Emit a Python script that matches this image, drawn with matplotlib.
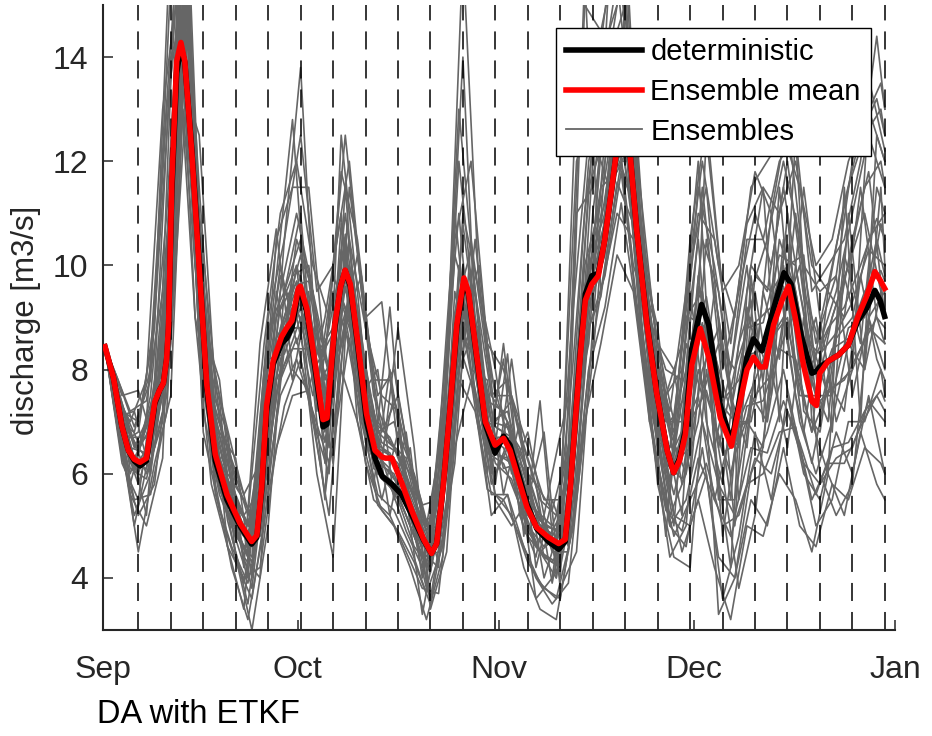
import matplotlib
matplotlib.use("Agg")
import matplotlib.pyplot as plt
from matplotlib.lines import Line2D

plt.rcParams['font.family'] = ['Liberation Sans', 'DejaVu Sans']

# ---------------- data (days since 1 Sep) ----------------
month_ticks = [0, 30, 61, 91, 122]
month_labels = ["Sep", "Oct", "Nov", "Dec", "Jan"]
y_ticks = [4, 6, 8, 10, 12, 14]

# assimilation times (dashed lines)
da_days = [5.44, 10.44, 15.44, 20.44, 25.44, 30.44, 35.44, 40.44, 45.44, 50.44,
           55.44, 60.44, 65.44, 70.44, 75.44, 80.44, 85.44, 90.44, 95.44, 100.44,
           105.44, 110.44, 115.44, 120.44]

# ensemble mean (red)
mean_days = [0.3, 1.6, 2.9, 3.9, 4.8, 5.7, 6.7, 7.4, 8.0, 8.7, 9.3, 9.8, 10.1, 10.6,
             11.35, 12.0, 12.6, 13.7, 14.9, 16.0, 17.3, 19.1, 21.1, 22.9, 23.7, 24.45,
             25.2, 26.2, 27.5, 28.3, 29.1, 30.1, 30.4, 31.4, 32.7, 33.9, 34.5, 35.7,
             36.6, 37.3, 38.1, 39.3, 40.6, 41.9, 43.0, 43.5, 44.5, 46.0, 47.6, 49.4,
             50.6, 51.4, 52.4, 53.5, 54.5, 55.6, 56.3, 57.6, 58.9, 60.4, 61.7, 62.7,
             64.0, 65.3, 66.8, 68.6, 70.2, 71.2, 72.0, 72.7, 73.5, 74.3, 75.3, 76.3,
             77.3, 78.4, 79.2, 80.2, 81.2, 82.2, 83.8, 85.3, 86.9, 87.9, 88.8, 89.7,
             90.7, 92.0, 93.3, 95.1, 96.8, 97.9, 99.2, 100.2, 101.2, 102.0, 103.3,
             104.6, 105.6, 106.6, 107.9, 109.2, 109.9, 110.4, 111.7, 113.3, 114.8,
             116.3, 117.6, 118.9, 119.7, 120.4]
mean_vals = [8.44, 7.85, 6.92, 6.45, 6.28, 6.22, 6.3, 6.9, 7.39, 7.6, 7.74, 8.2, 8.86, 11.59,
             13.92, 14.28, 13.92, 12.13, 9.8, 7.7, 6.37, 5.6, 5.05, 4.7, 4.82, 5.75,
             7.31, 8.16, 8.63, 8.8, 8.94, 9.56, 9.6, 9.17, 8.09, 7.04, 7.07, 8.86,
             9.6, 9.91, 9.64, 8.47, 7.15, 6.45, 6.32, 6.3, 6.3, 5.83, 5.28, 4.74,
             4.47, 4.66, 5.75, 7.31, 8.86, 9.76, 9.49, 8.24, 7.0, 6.55, 6.68, 6.45,
             5.9, 5.36, 4.97, 4.78, 4.66, 4.74, 5.75, 6.92, 8.24, 9.33, 9.64, 9.8,
             10.5, 11.51, 12.29, 13.0, 12.13, 10.7, 8.86, 7.54, 6.45, 6.02, 6.25, 6.75,
             8.09, 8.79, 8.24, 7.07, 6.53, 7.23, 8.0, 8.24, 8.05, 8.05, 8.86,
             9.33, 9.6, 9.02, 8.09, 7.39, 7.31, 7.93, 8.16, 8.28, 8.47,
             9.02, 9.4, 9.88, 9.72, 9.56]

# deterministic run (black)
det_days = [0.3, 1.6, 2.9, 3.9, 4.8, 5.7, 6.7, 7.4, 8.0, 8.7, 9.3, 9.8, 10.1, 10.6,
            11.35, 12.0, 12.6, 13.7, 14.9, 16.0, 17.3, 19.1, 21.1, 22.9, 23.7, 24.45,
            25.2, 26.2, 27.5, 28.3, 29.1, 30.1, 30.4, 31.4, 32.7, 33.9, 34.5, 35.7,
            36.6, 37.3, 38.1, 39.3, 40.6, 41.9, 43.0, 44.5, 46.0, 47.6, 49.4,
            50.6, 51.4, 52.4, 53.5, 54.5, 55.6, 56.3, 57.6, 58.9, 60.4, 61.7, 62.7,
            64.0, 65.3, 66.8, 68.6, 70.2, 71.2, 72.0, 72.7, 73.5, 74.3, 75.3, 76.3,
            77.3, 78.4, 79.2, 80.2, 81.2, 82.2, 83.8, 85.3, 86.9, 87.9, 88.8, 89.7,
            90.7, 92.2, 93.3, 95.1, 96.8, 97.9, 99.2, 100.2, 101.5, 103.3, 104.9,
            106.0, 107.6, 109.2, 109.9, 110.4, 111.7, 113.3, 114.8, 116.3, 117.6,
            118.9, 119.7, 120.4]
det_vals = [8.44, 7.85, 6.92, 6.45, 6.25, 6.15, 6.25, 6.85, 7.35, 7.6, 7.74, 8.2, 8.8, 11.4,
            13.7, 14.2, 13.9, 12.2, 9.9, 7.6, 6.25, 5.5, 5.0, 4.65, 4.78, 5.7,
            7.2, 8.1, 8.5, 8.6, 8.8, 9.5, 9.55, 9.1, 8.0, 6.9, 6.95, 8.8,
            9.6, 9.9, 9.6, 8.4, 7.0, 6.3, 5.95, 5.8, 5.6, 5.2, 4.72,
            4.47, 4.66, 5.75, 7.3, 8.8, 9.7, 9.45, 8.2, 6.95, 6.4, 6.72, 6.55,
            6.0, 5.42, 4.95, 4.7, 4.55, 4.7, 5.75, 6.95, 8.3, 9.45, 9.8, 9.85,
            10.5, 11.5, 12.3, 13.0, 12.13, 10.7, 8.9, 7.55, 6.45, 6.02, 6.3, 6.84,
            8.4, 9.25, 8.86, 7.31, 6.61, 7.31, 8.24, 8.59, 8.36, 9.17, 9.86,
            9.64, 8.63, 7.93, 7.97, 8.05, 8.16, 8.28, 8.47, 8.94, 9.17,
            9.52, 9.33, 9.02]

# ensemble members, group A
ens_days_a = [0.3, 2.94, 5.44, 7.94, 10.44, 12.94, 15.44, 17.94, 20.44, 22.94,
              25.44, 27.94, 30.44, 32.94, 35.44, 37.94, 40.44, 42.94, 45.44, 47.94,
              50.44, 52.94, 55.44, 57.94, 60.44, 62.94, 65.44, 67.94, 70.44, 72.94,
              75.44, 77.94, 80.44, 82.94, 85.44, 87.94, 90.44, 92.94, 95.44, 97.94,
              100.44, 102.94, 105.44, 107.94, 110.44, 112.94, 115.44, 117.94, 120.44]
ens_a = [
    [8.44, 7.2, 7.0, 8.8, 15.5, 17.0, 9.0, 7.5, 6.2, 5.0, 9.0, 10.5, 12.5, 9.5, 10.0, 12.0, 8.8, 7.5, 7.2, 5.8,
     4.8, 8.0, 16.0, 9.5, 7.5, 7.5, 6.5, 5.5, 5.5, 12.0, 13.0, 15.5, 16.5, 10.5, 8.5, 7.0, 10.0, 11.5, 8.0, 9.5,
     11.0, 10.0, 12.0, 9.5, 8.5, 9.5, 11.0, 12.5, 11.5],
    [8.44, 6.3, 5.2, 5.8, 8.5, 13.5, 6.8, 5.3, 4.3, 3.6, 5.6, 7.3, 8.2, 6.8, 6.5, 8.6, 6.2, 5.3, 4.9, 4.3,
     3.5, 5.2, 8.8, 7.0, 5.6, 5.2, 4.3, 3.8, 3.6, 5.5, 8.2, 12.0, 14.0, 8.3, 6.2, 4.8, 5.5, 6.2, 5.0, 5.2,
     6.3, 6.0, 7.2, 6.2, 5.8, 6.3, 6.5, 7.4, 7.0],
    [8.44, 7.3, 6.6, 6.8, 8.8, 15.5, 9.2, 7.5, 5.8, 5.2, 6.0, 9.5, 10.5, 9.0, 7.5, 10.5, 8.8, 6.8, 7.5, 5.8,
     4.6, 5.2, 9.0, 10.0, 7.0, 7.4, 6.0, 4.4, 4.2, 5.8, 10.5, 12.5, 14.5, 10.2, 8.8, 6.2, 6.5, 10.5, 8.5, 6.5,
     9.8, 9.5, 10.0, 10.2, 7.2, 8.6, 9.0, 10.5, 11.0],
    [8.44, 6.6, 6.8, 9.0, 16.5, 15.0, 7.2, 5.6, 4.8, 4.4, 8.8, 9.5, 11.0, 7.2, 9.5, 9.5, 6.6, 6.0, 5.5, 4.6,
     4.2, 8.0, 14.0, 7.2, 6.0, 6.8, 5.0, 4.6, 5.2, 13.5, 12.0, 13.5, 13.0, 8.8, 6.6, 6.5, 9.5, 7.0, 5.8, 8.5,
     9.5, 7.5, 11.0, 7.2, 6.8, 8.8, 10.5, 11.8, 9.0],
    [8.44, 7.0, 6.5, 7.6, 11.5, 14.8, 8.6, 6.3, 5.5, 4.9, 7.8, 9.0, 10.2, 8.3, 8.8, 10.4, 7.8, 6.6, 6.4, 5.5,
     4.7, 6.8, 10.8, 8.3, 6.9, 6.7, 5.6, 5.0, 4.9, 7.6, 10.3, 14.0, 14.0, 10.5, 7.8, 6.4, 8.4, 9.4, 7.4, 7.8,
     8.9, 9.2, 10.4, 8.6, 8.3, 8.7, 9.3, 10.3, 10.0],
    [8.44, 6.7, 5.8, 6.9, 10.0, 14.5, 7.6, 5.7, 4.9, 4.3, 7.0, 8.1, 9.0, 7.4, 7.8, 9.1, 6.8, 5.9, 5.6, 4.8,
     4.1, 6.0, 9.2, 7.5, 6.2, 5.9, 4.9, 4.4, 4.3, 6.8, 11.0, 13.5, 12.4, 9.3, 6.9, 5.6, 7.0, 7.6, 6.4, 6.6,
     7.5, 7.9, 8.8, 7.5, 7.4, 7.7, 8.0, 8.8, 8.5],
    [8.44, 7.5, 7.6, 6.5, 9.5, 16.0, 8.8, 7.8, 5.0, 3.8, 6.5, 10.5, 13.8, 8.0, 6.2, 11.5, 9.0, 9.3, 6.5, 5.0,
     3.6, 5.5, 11.0, 9.5, 8.0, 6.0, 6.8, 5.2, 4.0, 11.0, 11.5, 14.0, 15.0, 10.8, 8.5, 8.0, 6.0, 12.5, 9.5, 5.5,
     8.0, 11.0, 8.5, 11.5, 9.0, 7.0, 8.0, 13.0, 12.0],
    [8.44, 6.2, 5.5, 7.8, 14.0, 15.0, 7.8, 6.8, 6.3, 4.0, 8.2, 8.3, 9.2, 7.6, 9.8, 9.0, 7.0, 5.5, 6.8, 6.0,
     4.8, 7.2, 9.8, 7.6, 5.8, 8.2, 5.8, 4.0, 5.0, 8.0, 12.5, 11.5, 15.0, 9.5, 6.8, 5.0, 9.0, 8.8, 4.8, 7.0,
     7.8, 8.6, 9.0, 6.8, 8.8, 9.8, 7.5, 9.0, 8.0],
    [8.44, 6.8, 6.0, 7.0, 10.2, 15.5, 8.0, 5.9, 5.0, 4.6, 7.2, 8.5, 9.3, 7.7, 8.2, 9.4, 7.1, 6.2, 5.8, 5.0,
     4.4, 6.3, 9.4, 7.7, 6.4, 6.2, 5.2, 4.8, 4.6, 7.0, 12.0, 14.5, 15.5, 9.6, 7.1, 5.2, 5.0, 6.0, 3.6, 4.8,
     6.8, 5.5, 7.5, 6.0, 5.5, 6.8, 6.0, 7.5, 6.0],
    [8.44, 7.1, 6.4, 7.4, 11.0, 16.5, 8.3, 6.2, 5.4, 4.9, 7.6, 8.9, 9.8, 8.1, 8.7, 10.0, 7.5, 6.5, 6.2, 5.4,
     4.6, 6.6, 10.0, 8.1, 6.7, 6.5, 5.5, 5.0, 4.9, 7.5, 9.9, 15.5, 16.0, 10.2, 7.6, 6.8, 10.5, 12.8, 9.5, 10.0,
     11.8, 11.0, 12.8, 10.0, 9.5, 9.8, 12.0, 13.6, 12.2],
    [8.44, 6.5, 4.5, 6.2, 7.5, 15.0, 8.4, 7.4, 4.4, 3.0, 5.0, 8.8, 8.8, 6.0, 4.4, 10.0, 8.0, 6.2, 8.8, 6.5,
     3.4, 4.5, 9.0, 8.8, 5.5, 5.0, 5.5, 6.8, 3.8, 4.5, 8.8, 13.0, 13.5, 9.0, 5.8, 4.4, 4.2, 8.0, 6.0, 3.8,
     5.2, 8.0, 6.5, 9.0, 6.0, 5.2, 5.8, 9.0, 9.5],
]

# ensemble members, group B
ens_days_b = [0.3, 1.69, 4.19, 6.69, 9.19, 11.69, 14.19, 16.69, 19.19, 21.69,
              24.19, 26.69, 29.19, 31.69, 34.19, 36.69, 39.19, 41.69, 44.19, 46.69,
              49.19, 51.69, 54.19, 56.69, 59.19, 61.69, 64.19, 66.69, 69.19, 71.69,
              74.19, 76.69, 79.19, 81.69, 84.19, 86.69, 89.19, 91.69, 94.19, 96.69,
              99.19, 101.69, 104.19, 106.69, 109.19, 111.69, 114.19, 116.69, 119.19, 120.44]
ens_b = [
    [8.44, 8.0, 7.2, 7.4, 9.5, 17.5, 12.0, 7.5, 6.5, 5.6, 6.2, 10.5, 11.5, 11.5, 8.2, 11.8, 10.5, 7.8, 7.8, 6.5,
     5.4, 5.5, 10.5, 12.0, 8.5, 8.0, 6.8, 5.8, 5.3, 6.5, 15.0, 14.5, 16.0, 13.5, 9.0, 8.0, 7.8, 11.5, 10.0, 8.0,
     10.5, 10.5, 12.0, 12.5, 9.5, 10.0, 10.5, 12.0, 14.4, 13.0],
    [8.44, 7.5, 5.6, 5.0, 6.3, 14.0, 9.0, 5.8, 4.6, 4.0, 4.2, 6.5, 7.5, 7.6, 5.6, 8.0, 7.0, 5.5, 5.2, 4.5,
     3.8, 3.7, 6.5, 7.8, 5.7, 5.5, 4.8, 4.0, 3.5, 3.9, 7.0, 8.5, 10.2, 9.5, 7.0, 5.3, 4.9, 6.3, 5.5, 4.8,
     5.8, 6.0, 6.8, 6.9, 5.5, 6.2, 6.2, 6.9, 7.5, 7.2],
    [8.44, 7.6, 7.0, 7.8, 13.0, 15.5, 9.0, 7.6, 6.8, 4.2, 8.5, 10.7, 8.0, 7.6, 9.0, 11.0, 7.0, 5.8, 8.0, 6.0,
     4.0, 6.5, 11.0, 8.0, 6.5, 8.2, 5.2, 4.4, 6.0, 7.5, 15.5, 9.5, 11.0, 10.5, 7.0, 7.5, 8.0, 10.5, 6.5, 8.0,
     10.0, 7.0, 11.5, 8.0, 6.8, 9.5, 9.0, 11.5, 9.0, 8.5],
    [8.44, 7.9, 6.8, 6.0, 7.0, 14.5, 12.0, 7.5, 6.0, 5.5, 4.8, 7.0, 9.8, 10.0, 7.8, 8.5, 10.2, 7.5, 6.6, 6.3,
     5.3, 4.3, 6.2, 10.5, 8.2, 7.0, 6.5, 5.5, 4.5, 4.5, 8.0, 11.5, 11.8, 12.5, 8.8, 7.5, 5.8, 7.0, 9.5, 7.5,
     6.5, 9.5, 8.2, 11.0, 8.5, 7.5, 9.8, 8.5, 11.5, 11.0],
    [8.44, 7.9, 6.7, 6.7, 8.3, 15.5, 11.0, 7.3, 5.9, 5.2, 5.7, 9.0, 9.6, 9.7, 7.5, 10.3, 9.2, 7.0, 6.7, 6.0,
     5.1, 5.2, 9.1, 10.3, 7.4, 7.2, 6.3, 5.3, 5.0, 5.8, 10.0, 11.2, 13.2, 12.4, 9.2, 7.0, 7.0, 9.6, 8.3, 7.2,
     8.8, 8.9, 10.2, 10.0, 8.1, 8.8, 9.2, 10.0, 10.9, 10.5],
    [8.44, 7.7, 6.1, 5.9, 7.2, 15.0, 10.6, 6.5, 5.3, 4.6, 4.9, 7.8, 8.4, 8.4, 6.6, 9.0, 8.0, 6.1, 5.9, 5.2,
     4.4, 4.5, 7.8, 8.6, 6.4, 6.2, 5.4, 4.6, 4.3, 4.9, 8.6, 9.4, 11.6, 10.8, 8.0, 6.2, 5.9, 8.0, 7.0, 6.0,
     7.3, 7.4, 8.4, 8.2, 6.8, 7.6, 7.8, 8.4, 9.0, 8.8],
    [8.44, 7.7, 5.8, 7.0, 12.0, 16.5, 10.0, 7.8, 4.6, 3.4, 6.8, 9.8, 12.8, 8.5, 5.5, 12.5, 9.5, 6.2, 9.2, 5.6,
     3.3, 5.0, 10.2, 9.0, 6.0, 8.5, 5.8, 3.6, 4.0, 6.2, 11.0, 13.5, 15.5, 12.5, 8.0, 4.8, 8.5, 12.0, 6.5, 4.2,
     9.5, 11.5, 7.0, 12.5, 7.0, 6.0, 11.5, 7.0, 12.5, 12.0],
    [8.44, 7.3, 6.0, 6.9, 8.0, 14.5, 10.5, 7.2, 5.1, 3.9, 5.8, 8.6, 9.2, 8.8, 7.4, 9.3, 8.3, 6.8, 5.8, 4.9,
     4.2, 5.5, 8.0, 8.8, 7.3, 6.1, 6.2, 5.8, 3.9, 5.5, 9.0, 10.5, 12.0, 11.2, 7.8, 5.6, 6.8, 7.5, 5.5, 6.8,
     7.0, 6.5, 9.8, 7.5, 6.2, 7.8, 7.2, 9.8, 8.2, 7.8],
    [8.44, 7.8, 6.5, 6.4, 7.9, 16.0, 11.0, 7.0, 5.7, 5.0, 5.4, 8.4, 9.1, 9.2, 7.1, 9.8, 8.8, 6.6, 6.4, 5.7,
     4.9, 5.0, 8.6, 9.4, 7.0, 6.8, 5.9, 5.1, 4.8, 5.4, 9.4, 10.3, 12.5, 11.7, 8.7, 7.5, 8.5, 11.0, 10.5, 8.5,
     10.8, 11.5, 11.0, 12.0, 10.0, 9.5, 11.2, 12.5, 13.2, 12.5],
    [8.44, 7.6, 6.2, 6.1, 7.5, 15.2, 11.0, 6.8, 5.5, 4.8, 5.2, 8.2, 8.8, 8.8, 6.8, 9.4, 8.4, 6.4, 6.1, 5.4,
     4.6, 4.7, 8.2, 9.0, 6.7, 6.5, 5.7, 4.9, 4.6, 5.1, 9.0, 9.9, 12.1, 11.3, 8.3, 6.0, 4.5, 5.5, 4.2, 3.2,
     5.0, 4.8, 6.0, 5.5, 4.5, 6.0, 5.2, 6.8, 5.8, 5.5],
    [8.44, 7.4, 6.6, 5.2, 8.8, 14.8, 11.0, 6.0, 6.5, 4.4, 4.0, 9.5, 7.8, 9.5, 6.2, 10.8, 7.6, 7.2, 5.2, 6.8,
     4.5, 4.2, 9.5, 8.0, 7.8, 5.6, 7.0, 4.2, 5.5, 4.6, 9.6, 10.8, 12.8, 10.0, 9.0, 6.8, 5.2, 9.8, 7.8, 5.5,
     9.2, 7.8, 10.5, 9.5, 7.8, 7.0, 10.2, 9.0, 10.5, 9.8],
]

# ensemble members, group C
ens_days_c = [0.3, 2.32, 4.82, 7.32, 9.82, 12.32, 14.82, 17.32, 19.82, 22.32,
              24.82, 27.32, 29.82, 32.32, 34.82, 37.32, 39.82, 42.32, 44.82, 47.32,
              49.82, 52.32, 54.82, 57.32, 59.82, 62.32, 64.82, 67.32, 69.82, 72.32,
              74.82, 77.32, 79.82, 82.32, 84.82, 87.32, 89.82, 92.32, 94.82, 97.32,
              99.82, 102.32, 104.82, 107.32, 109.82, 112.32, 114.82, 117.32, 119.82, 120.44]
ens_c = [
    [8.44, 7.6, 6.0, 7.5, 11.0, 16.5, 11.5, 7.0, 5.9, 4.5, 7.5, 9.5, 11.0, 9.5, 8.0, 11.0, 8.5, 6.8, 7.0, 5.9,
     4.6, 6.5, 12.0, 9.0, 7.0, 7.2, 6.0, 5.0, 4.8, 8.0, 12.0, 13.5, 15.5, 11.0, 8.5, 6.8, 8.0, 11.5, 8.5, 8.0,
     10.0, 9.5, 11.5, 9.5, 8.0, 9.0, 10.0, 11.5, 12.0, 11.5],
    [8.44, 7.0, 5.5, 5.6, 7.2, 13.0, 9.0, 5.6, 4.6, 3.9, 5.4, 7.5, 8.2, 7.2, 6.2, 8.8, 7.0, 5.6, 5.3, 4.6,
     3.7, 4.6, 7.8, 7.2, 5.6, 5.6, 4.6, 3.9, 3.6, 4.9, 8.0, 9.2, 11.2, 9.0, 6.6, 5.0, 5.5, 7.0, 5.8, 5.2,
     6.5, 6.4, 7.4, 6.6, 5.6, 6.5, 6.6, 7.2, 7.6, 7.4],
    [8.44, 7.8, 6.9, 7.8, 12.5, 17.0, 10.5, 7.2, 6.2, 5.2, 8.5, 11.0, 12.0, 10.0, 9.0, 12.5, 9.5, 7.5, 8.0, 6.2,
     5.0, 6.8, 13.0, 9.5, 7.5, 7.8, 6.5, 5.5, 5.2, 7.0, 11.5, 12.5, 14.5, 11.5, 8.2, 7.0, 7.5, 10.5, 9.5, 7.0,
     9.5, 10.5, 12.0, 10.5, 8.5, 10.0, 11.5, 12.5, 13.0, 12.5],
    [8.44, 7.2, 5.0, 6.5, 9.0, 15.0, 8.5, 6.8, 4.8, 3.5, 5.8, 8.0, 10.0, 7.0, 6.0, 10.5, 7.5, 6.0, 7.5, 5.2,
     3.8, 5.2, 10.0, 8.0, 5.8, 6.5, 4.9, 4.5, 4.0, 5.8, 10.0, 11.0, 13.5, 9.5, 7.0, 5.2, 6.0, 9.5, 5.5, 5.5,
     7.5, 7.0, 9.0, 7.0, 6.0, 7.0, 8.5, 8.0, 9.5, 9.0],
    [8.44, 7.4, 6.3, 6.9, 8.6, 15.0, 10.4, 6.5, 5.5, 4.8, 6.7, 8.8, 9.7, 8.6, 7.7, 10.2, 8.2, 6.5, 6.3, 5.5,
     4.7, 5.8, 9.5, 8.7, 6.7, 6.7, 5.6, 4.9, 4.7, 6.5, 9.8, 10.8, 13.5, 10.9, 8.1, 6.3, 7.0, 8.9, 7.4, 7.0,
     8.3, 8.4, 9.6, 8.5, 7.5, 8.4, 8.6, 9.5, 9.9, 9.7],
    [8.44, 7.6, 6.6, 6.2, 7.5, 13.5, 12.5, 7.5, 5.8, 5.0, 5.8, 8.0, 10.5, 9.5, 7.0, 9.0, 9.8, 7.0, 6.5, 6.0,
     5.0, 4.8, 7.5, 10.5, 7.5, 7.0, 6.2, 5.2, 4.6, 5.0, 8.0, 10.0, 12.0, 12.0, 9.0, 6.8, 6.0, 8.0, 8.8, 7.0,
     7.0, 8.5, 9.0, 10.0, 7.5, 7.5, 8.8, 9.0, 10.8, 10.5],
    [8.44, 7.0, 6.8, 8.0, 13.0, 15.5, 8.5, 6.0, 5.0, 4.4, 8.0, 9.8, 9.0, 7.5, 8.8, 10.5, 7.0, 6.0, 5.8, 5.0,
     4.2, 7.5, 11.0, 7.5, 6.2, 7.0, 5.2, 4.5, 4.8, 9.0, 12.5, 13.0, 12.0, 9.0, 7.0, 6.5, 9.0, 9.5, 6.5, 8.0,
     9.0, 8.0, 10.0, 7.5, 7.5, 9.0, 10.0, 11.0, 9.5, 9.0],
    [8.44, 7.3, 6.1, 6.6, 8.0, 14.5, 9.8, 6.2, 5.2, 4.4, 6.2, 8.4, 9.2, 8.0, 7.2, 9.6, 7.8, 6.2, 6.0, 5.2,
     4.3, 5.4, 8.8, 8.2, 6.4, 6.3, 5.3, 4.5, 4.3, 5.9, 9.2, 10.2, 12.5, 10.2, 7.5, 5.0, 4.6, 6.5, 4.4, 4.0,
     5.5, 5.0, 6.5, 5.0, 4.6, 5.8, 5.5, 6.5, 6.2, 6.0],
    [8.44, 7.5, 6.5, 7.2, 9.5, 15.8, 10.8, 6.8, 5.6, 5.0, 7.0, 9.2, 10.0, 8.8, 8.0, 10.6, 8.4, 6.8, 6.5, 5.7,
     4.9, 6.0, 9.8, 9.0, 7.0, 6.9, 5.8, 5.1, 4.9, 6.8, 10.2, 11.2, 14.0, 11.2, 8.4, 7.2, 9.5, 12.0, 10.0, 9.0,
     11.5, 12.0, 12.5, 11.5, 10.0, 10.5, 12.0, 12.8, 13.5, 13.0],
    [8.44, 7.1, 7.2, 6.0, 10.0, 14.0, 11.0, 7.8, 5.0, 4.0, 7.5, 10.0, 8.5, 9.5, 6.5, 11.5, 7.5, 8.0, 5.5, 6.5,
     3.9, 6.8, 8.5, 9.5, 6.0, 8.3, 4.8, 7.4, 4.0, 7.0, 8.5, 12.5, 12.5, 10.0, 9.0, 5.6, 8.5, 7.5, 8.5, 5.0,
     9.8, 7.0, 10.5, 8.0, 9.0, 6.8, 11.0, 8.0, 11.5, 10.0],
    [8.44, 6.8, 5.2, 6.0, 8.2, 14.0, 9.5, 5.8, 4.2, 3.2, 5.0, 7.8, 8.6, 7.0, 5.2, 9.0, 7.2, 5.4, 5.0, 4.2,
     3.2, 4.4, 8.5, 7.5, 5.2, 5.6, 4.2, 3.4, 3.2, 5.0, 8.8, 9.8, 11.8, 9.2, 6.5, 4.4, 5.0, 8.5, 3.3, 4.0,
     6.0, 6.8, 8.0, 6.5, 5.0, 5.5, 7.0, 7.0, 8.0, 7.5],
]

legend_labels = ["deterministic", "Ensemble mean", "Ensembles"]
ylabel_text = "discharge [m3/s]"
note_text = "DA with ETKF"

# ---------------- figure ----------------
W, H = 932, 736
fig = plt.figure(figsize=(W / 100, H / 100), dpi=100)
ax = fig.add_axes([103 / W, 1 - 630 / H, 792 / W, 625 / H])

gray = "#666666"
txt = "#262626"

for days, group in ((ens_days_a, ens_a), (ens_days_b, ens_b), (ens_days_c, ens_c)):
    for member in group:
        ax.plot(days, member, color=gray, lw=1.2, zorder=1, solid_joinstyle="round")

for d in da_days:
    ax.plot([d, d], [3, 15], color="black", lw=1.1, dashes=(11.8, 7.2), zorder=2)

ax.plot(det_days, det_vals, color="black", lw=4.0, zorder=3)
ax.plot(mean_days, mean_vals, color="#ff0000", lw=4.0, zorder=4)

ax.set_xlim(0, 122)
ax.set_ylim(3, 15)
ax.set_xticks(month_ticks)
ax.set_xticklabels(month_labels)
ax.set_yticks(y_ticks)

for s in ("top", "right"):
    ax.spines[s].set_visible(False)
for s in ("left", "bottom"):
    ax.spines[s].set_color(txt)
    ax.spines[s].set_linewidth(1.5)

ax.tick_params(axis="both", direction="in", length=7, width=1.1, colors=txt, labelsize=23)
ax.tick_params(axis="x", pad=18)
ax.tick_params(axis="y", pad=10.5)

fig.text(26 / W, 1 - 320 / H, ylabel_text, rotation=90, ha="center", va="center",
         fontsize=22.5, color=txt)
fig.text(97 / W, 1 - 723 / H, note_text, ha="left", va="baseline", fontsize=23.5, color="black")

handles = [Line2D([], [], color="black", lw=4.0),
           Line2D([], [], color="#ff0000", lw=4.0),
           Line2D([], [], color=gray, lw=1.3)]
leg = ax.legend(handles, legend_labels, loc="upper right",
                bbox_to_anchor=((871 - 103) / 792, (630 - 28) / 625),
                fontsize=21, frameon=True, fancybox=False, edgecolor="black",
                framealpha=1, borderpad=0.35, labelspacing=0.4, handlelength=2.6,
                handletextpad=0.3, borderaxespad=0)
leg.get_frame().set_linewidth(1.0)
leg.set_zorder(10)

fig.savefig("out.png", dpi=100)
